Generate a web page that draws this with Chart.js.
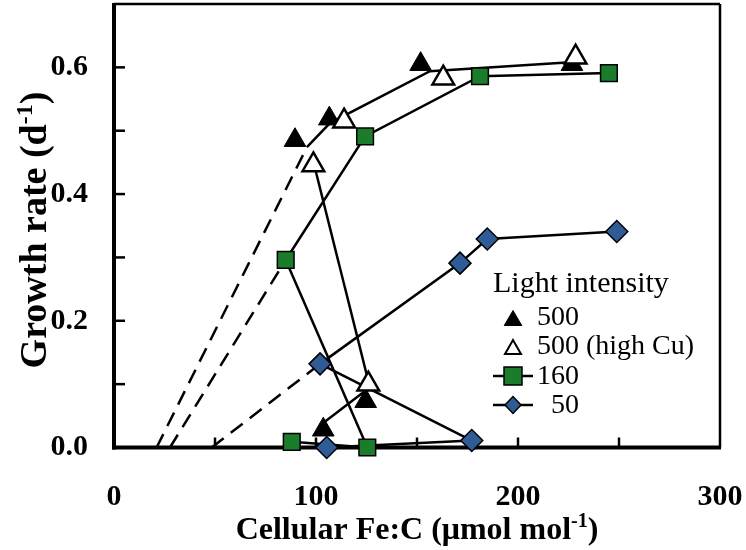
<!DOCTYPE html>
<html>
<head>
<meta charset="utf-8">
<script src="https://cdn.jsdelivr.net/npm/chart.js@4.4.1/dist/chart.umd.min.js"></script>
<style>
  html, body { margin: 0; padding: 0; background: #fff; }
  #wrap { width: 746px; height: 550px; position: relative; }
</style>
</head>
<body>
<div id="wrap"><canvas id="c"></canvas></div>
<script>
// markers (x = Fe:C, y = growth rate)
const tri500X = [89.6, 106.6, 151.8, 226.7, 103.6, 124.6];
const tri500Y = [0.485, 0.519, 0.605, 0.605, 0.028, 0.073];
const triCuX = [98.7, 113.9, 163.0, 228.5, 125.9];
const triCuY = [0.446, 0.515, 0.583, 0.616, 0.100];
const sq160X = [85.0, 124.3, 181.2, 245.0, 88.0, 125.4];
const sq160Y = [0.296, 0.491, 0.586, 0.591, 0.009, 0.000];
const dia50X = [102.0, 171.3, 184.8, 248.9, 105.3, 177.1];
const dia50Y = [0.132, 0.291, 0.329, 0.341, 0.000, 0.011];

// drawn lines
const dash500X = [21.1, 95.5];
const dash500Y = [0, 0.474];
const fit500X = [95.5, 106.9, 156.4, 226.0];
const fit500Y = [0.474, 0.512, 0.594, 0.608];
const dash160X = [27.7, 85.0];
const dash160Y = [0, 0.296];
const dash50X = [48.4, 102.0];
const dash50Y = [0, 0.132];
const dropX = [[98.7, 125.9], [85.0, 125.4], [102.0, 177.1], [125.1, 104.5], [125.4, 88.0], [105.3, 177.1]];
const dropY = [[0.451, 0.105], [0.296, 0.000], [0.132, 0.011], [0.091, 0.041], [0.000, 0.009], [0.000, 0.011]];

// ticks
const xTickLabels = [0, 100, 200, 300];
const yTickLabels = [0, 0.2, 0.4, 0.6];
const xTickMarks = [50, 100, 150, 200, 250];
const yTickMarks = [0.1, 0.2, 0.3, 0.4, 0.5, 0.6];

const GREEN = '#1b7d2c';
const BLUE = '#2f5b96';
const SERIF = '"Liberation Serif", "Times New Roman", serif';

function pts(xs, ys) {
  return xs.map((x, i) => ({ x: x, y: ys[i] }));
}

function lineSet(data, dash) {
  return {
    data: data,
    showLine: true,
    borderColor: '#000',
    borderWidth: 2.5,
    borderDash: dash || [],
    pointRadius: 0,
    pointHoverRadius: 0,
    clip: false,
    order: 10
  };
}

const datasets = [
  lineSet(pts(dash500X, dash500Y), [15, 9]),
  lineSet(pts(fit500X, fit500Y)),
  lineSet(pts(dash160X, dash160Y), [15, 9]),
  lineSet(pts(sq160X.slice(0, 4), sq160Y.slice(0, 4))),
  lineSet(pts(dash50X, dash50Y), [15, 9]),
  lineSet(pts(dia50X.slice(0, 4), dia50Y.slice(0, 4))),
];
dropX.forEach((xs, i) => datasets.push(lineSet(pts(xs, dropY[i]))));

datasets.push(
  { label: '50', data: pts(dia50X, dia50Y), pointStyle: 'rectRot', pointRadius: 11,
    backgroundColor: BLUE, borderColor: '#000', borderWidth: 1.5, clip: false, order: 4 },
  { label: '160', data: pts(sq160X, sq160Y), pointStyle: 'rect', pointRadius: 11.8,
    backgroundColor: GREEN, borderColor: '#000', borderWidth: 1.5, clip: false, order: 3 },
  { label: '500', data: pts(tri500X, tri500Y), pointStyle: 'triangle', pointRadius: 12.5,
    backgroundColor: '#000', borderColor: '#000', borderWidth: 1, clip: false, order: 2 },
  { label: '500 (high Cu)', data: pts(triCuX, triCuY), pointStyle: 'triangle', pointRadius: 12.5,
    backgroundColor: '#fff', borderColor: '#000', borderWidth: 2.5, clip: false, order: 1 }
);

function line(ctx, x1, y1, x2, y2) {
  ctx.beginPath();
  ctx.moveTo(x1, y1);
  ctx.lineTo(x2, y2);
  ctx.stroke();
}

// title with superscript
function drawRich(ctx, parts, x, y, size, rotate) {
  ctx.save();
  ctx.translate(x, y);
  if (rotate) ctx.rotate(-Math.PI / 2);
  const fN = 'bold ' + size + 'px ' + SERIF;
  const fS = 'bold ' + Math.round(size * 0.62) + 'px ' + SERIF;
  let w = 0;
  parts.forEach(p => { ctx.font = p[1] ? fS : fN; w += ctx.measureText(p[0]).width; });
  let cx = -w / 2;
  ctx.fillStyle = '#000';
  ctx.textBaseline = 'alphabetic';
  parts.forEach(p => {
    ctx.font = p[1] ? fS : fN;
    ctx.fillText(p[0], cx, p[1] ? -size * 0.36 : 0);
    cx += ctx.measureText(p[0]).width;
  });
  ctx.restore();
}

function tri(ctx, x, y, w, h, fill) {
  ctx.beginPath();
  ctx.moveTo(x, y - h / 2);
  ctx.lineTo(x + w / 2, y + h / 2);
  ctx.lineTo(x - w / 2, y + h / 2);
  ctx.closePath();
  ctx.fillStyle = fill;
  ctx.fill();
  ctx.stroke();
}

const framePlugin = {
  id: 'frame',
  beforeDatasetsDraw(chart) {
    const { ctx, chartArea: a, scales: { x, y } } = chart;
    ctx.save();
    ctx.strokeStyle = '#000';
    ctx.lineWidth = 2.5;
    xTickMarks.forEach(v => { const p = x.getPixelForValue(v); line(ctx, p, a.bottom, p, a.bottom - 10); });
    yTickMarks.forEach(v => { const p = y.getPixelForValue(v); line(ctx, a.left, p, a.left + 11, p); });
    line(ctx, a.left, a.top, a.right, a.top);
    line(ctx, a.right, a.top, a.right, a.bottom);
    ctx.lineWidth = 4;
    line(ctx, a.left, a.top - 1, a.left, a.bottom + 2);
    line(ctx, a.left - 2, a.bottom, a.right + 1, a.bottom);
    ctx.restore();
  },
  afterDraw(chart) {
    const { ctx, chartArea: a } = chart;
    drawRich(ctx, [['Cellular Fe:C (\u03bcmol mol', 0], ['-1', 1], [')', 0]], (a.left + a.right) / 2, 539, 32, false);
    drawRich(ctx, [['Growth rate (d', 0], ['-1', 1], [')', 0]], 46, 230, 38, true);

    // legend
    ctx.save();
    ctx.fillStyle = '#000';
    ctx.strokeStyle = '#000';
    ctx.textBaseline = 'alphabetic';
    const lx = a.left + 379, mx = lx + 20;
    ctx.font = '30px ' + SERIF;
    ctx.fillText('Light intensity', lx, 292);
    ctx.font = '28px ' + SERIF;
    ctx.fillText('500', lx + 44, 325);
    ctx.fillText('500 (high Cu)', lx + 44, 354);
    ctx.fillText('160', lx + 44, 384);
    ctx.fillText('50', lx + 58, 413);
    ctx.lineWidth = 1;
    tri(ctx, mx, 318, 17.5, 15, '#000');
    ctx.lineWidth = 2;
    tri(ctx, mx, 347, 16, 14, '#fff');
    ctx.lineWidth = 2.5;
    line(ctx, lx, 376, lx + 40, 376);
    line(ctx, lx, 405, lx + 40, 405);
    ctx.lineWidth = 1.5;
    ctx.fillStyle = GREEN;
    ctx.fillRect(mx - 9, 367, 18, 18);
    ctx.strokeRect(mx - 9, 367, 18, 18);
    ctx.beginPath();
    ctx.moveTo(mx - 8, 405); ctx.lineTo(mx, 396.5); ctx.lineTo(mx + 8, 405); ctx.lineTo(mx, 413.5);
    ctx.closePath();
    ctx.fillStyle = BLUE;
    ctx.fill();
    ctx.stroke();
    ctx.restore();
  }
};

const tickFont = { family: SERIF, size: 30, weight: 'bold' };

new Chart(document.getElementById('c'), {
  type: 'scatter',
  data: { datasets: datasets },
  options: {
    responsive: true,
    maintainAspectRatio: false,
    animation: false,
    layout: { autoPadding: false, padding: { top: 4, right: 26, left: 0, bottom: 0 } },
    plugins: { legend: { display: false }, tooltip: { enabled: false } },
    scales: {
      x: {
        type: 'linear', min: 0, max: 300,
        afterBuildTicks: s => { s.ticks = xTickLabels.map(v => ({ value: v })); },
        ticks: { font: tickFont, color: '#000', padding: 32, maxRotation: 0, autoSkip: false,
                 callback: v => String(v) },
        grid: { display: false, drawTicks: false },
        border: { display: false },
        afterFit: s => { s.height = 102.5; s.paddingLeft = 0; s.paddingRight = 0; }
      },
      y: {
        type: 'linear', min: 0, max: 0.7,
        afterBuildTicks: s => { s.ticks = yTickLabels.map(v => ({ value: v })); },
        ticks: { font: tickFont, color: '#000', padding: 26, autoSkip: false,
                 callback: v => v.toFixed(1) },
        grid: { display: false, drawTicks: false },
        border: { display: false },
        afterFit: s => { s.width = 114; s.paddingTop = 0; s.paddingBottom = 0; }
      }
    }
  },
  plugins: [framePlugin]
});
</script>
</body>
</html>
